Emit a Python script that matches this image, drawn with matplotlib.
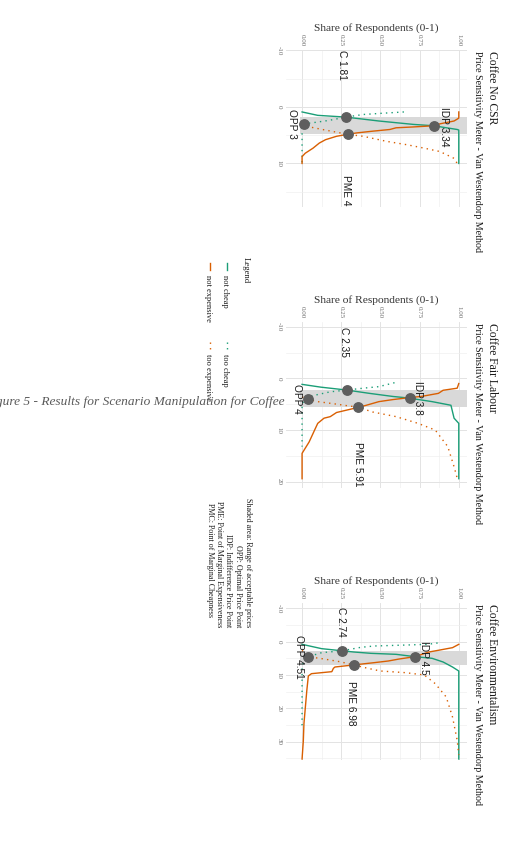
#!/usr/bin/env python3

import matplotlib
matplotlib.use("Agg")
import matplotlib.pyplot as plt
from matplotlib.lines import Line2D

W, H = 506, 865

GREEN = "#1b9e77"
ORANGE = "#d95f02"
POINT_GREY = "#5e5e5e"
SHADE = "#d9d9d9"
SERIF = "Liberation Serif"
SANS = "Liberation Sans"

TITLES = ["Coffee No CSR", "Coffee Fair Labour", "Coffee Environmentalism"]
SUBTITLE = "Price Sensitivity Meter - Van Westendorp Method"
SHARE_LABEL = "Share of Respondents (0-1)"
SHARE_TICKS = [0.0, 0.25, 0.5, 0.75, 1.0]
SHARE_TICK_LABELS = ["0.00", "0.25", "0.50", "0.75", "1.00"]
PRICE_TICKS = [[-10, 0, 10], [-10, 0, 10, 20], [-10, 0, 10, 20, 30]]
PRICE_LIMITS = [(-10.05, 17.7), (-10.9, 21.2), (-11.6, 35.5)]

# --- Coffee No CSR ---
NOCSR_NOT_CHEAP_PRICE = [0.9, 1.5, 1.81, 2.5, 3.1, 3.34, 4.0, 4.1, 10.0]
NOCSR_NOT_CHEAP_SHARE = [0.0, 0.10, 0.28, 0.49, 0.71, 0.84, 0.99, 1.0, 1.0]
NOCSR_TOO_CHEAP_PRICE = [0.9, 1.15, 1.35, 1.81, 2.4, 2.8, 3.0, 3.3, 10.0]
NOCSR_TOO_CHEAP_SHARE = [0.65, 0.50, 0.39, 0.28, 0.17, 0.07, 0.01, 0.0, 0.0]
NOCSR_NOT_EXP_PRICE = [0.9, 2.0, 2.5, 3.0, 3.34, 3.55, 3.7, 4.0, 4.3, 4.6, 4.85,
                       5.2, 5.8, 6.4, 7.3, 8.2, 8.8, 10.0]
NOCSR_NOT_EXP_SHARE = [1.0, 1.0, 0.97, 0.88, 0.84, 0.71, 0.60, 0.56, 0.45, 0.35,
                       0.29, 0.22, 0.15, 0.11, 0.07, 0.02, 0.0, 0.0]
NOCSR_TOO_EXP_PRICE = [2.8, 3.0, 3.5, 4.0, 4.85, 5.2, 6.1, 6.7, 7.3, 7.9, 9.1, 10.0]
NOCSR_TOO_EXP_SHARE = [0.0, 0.01, 0.04, 0.13, 0.29, 0.39, 0.54, 0.67, 0.78, 0.88,
                       0.97, 0.99]
NOCSR_POINT_PRICE = [1.81, 3.0, 3.34, 4.85]
NOCSR_POINT_SHARE = [0.28, 0.01, 0.84, 0.29]
NOCSR_LABELS = ["C 1.81", "OPP 3", "IDP 3.34", "PME 4"]
NOCSR_LABEL_PRICE = [-7.4, 3.0, 3.5, 14.8]
NOCSR_LABEL_SHARE = [0.258, -0.065, 0.905, 0.28]

# --- Coffee Fair Labour ---
FAIR_NOT_CHEAP_PRICE = [1.16, 1.7, 2.26, 2.9, 3.5, 3.8, 4.5, 5.2, 7.7, 8.7, 19.4]
FAIR_NOT_CHEAP_SHARE = [0.0, 0.12, 0.285, 0.43, 0.58, 0.68, 0.83, 0.95, 0.97, 1.0, 1.0]
FAIR_TOO_CHEAP_PRICE = [0.84, 1.6, 1.9, 2.26, 2.6, 3.5, 4.0, 4.8, 13.2]
FAIR_TOO_CHEAP_SHARE = [0.59, 0.49, 0.39, 0.285, 0.18, 0.045, 0.03, 0.0, 0.0]
FAIR_NOT_EXP_PRICE = [1.0, 1.9, 2.3, 2.9, 3.5, 3.7, 4.1, 4.5, 5.2, 5.6, 6.6, 7.4,
                      7.7, 8.7, 10.0, 12.3, 14.5, 19.4]
FAIR_NOT_EXP_SHARE = [1.0, 0.99, 0.90, 0.87, 0.76, 0.69, 0.58, 0.49, 0.41, 0.36,
                      0.22, 0.18, 0.14, 0.10, 0.08, 0.045, 0.0, 0.0]
FAIR_TOO_EXP_PRICE = [3.6, 4.0, 4.5, 4.9, 5.6, 6.5, 7.4, 8.7, 10.0, 13.2, 17.1, 19.3]
FAIR_TOO_EXP_SHARE = [0.0, 0.035, 0.10, 0.20, 0.36, 0.45, 0.60, 0.74, 0.85, 0.93,
                      0.97, 0.99]
FAIR_POINT_PRICE = [2.26, 4.0, 3.7, 5.6]
FAIR_POINT_SHARE = [0.285, 0.035, 0.69, 0.36]
FAIR_LABELS = ["C 2.35", "OPP 4", "IDP 3.8", "PME 5.91"]
FAIR_LABEL_PRICE = [-7.1, 4.0, 3.8, 16.6]
FAIR_LABEL_SHARE = [0.265, -0.03, 0.74, 0.36]

# --- Coffee Environmentalism ---
ENV_NOT_CHEAP_PRICE = [0.8, 2.1, 2.74, 3.1, 3.5, 3.8, 4.5, 5.0, 6.1, 7.6, 8.8, 35.2]
ENV_NOT_CHEAP_SHARE = [0.0, 0.125, 0.256, 0.33, 0.44, 0.60, 0.72, 0.83, 0.90, 0.96,
                       1.0, 1.0]
ENV_TOO_CHEAP_PRICE = [0.4, 0.8, 1.0, 1.3, 1.7, 2.74, 3.3, 4.51, 5.8, 7.8, 25.8]
ENV_TOO_CHEAP_SHARE = [0.865, 0.80, 0.67, 0.46, 0.375, 0.256, 0.125, 0.04, 0.01,
                       0.0, 0.0]
ENV_NOT_EXP_PRICE = [0.8, 1.8, 2.5, 3.1, 4.5, 5.2, 5.8, 6.3, 6.98, 7.6, 8.0, 9.0,
                     9.6, 10.3, 14.8, 24.6, 29.8, 35.2]
ENV_NOT_EXP_SHARE = [1.0, 0.96, 0.88, 0.81, 0.72, 0.62, 0.55, 0.46, 0.33, 0.21,
                     0.20, 0.19, 0.06, 0.04, 0.03, 0.012, 0.008, 0.0]
ENV_TOO_EXP_PRICE = [2.6, 4.51, 5.2, 6.0, 6.98, 8.0, 8.8, 9.3, 10.0, 12.6, 16.6,
                     22.6, 29.6, 34.0]
ENV_TOO_EXP_SHARE = [0.0, 0.04, 0.14, 0.24, 0.33, 0.42, 0.50, 0.66, 0.78, 0.85,
                     0.92, 0.96, 0.99, 1.0]
ENV_POINT_PRICE = [2.74, 4.51, 4.5, 6.98]
ENV_POINT_SHARE = [0.256, 0.04, 0.72, 0.33]
ENV_LABELS = ["C 2.74", "OPP 4.51", "IDP 4.5", "PME 6.98"]
ENV_LABEL_PRICE = [-6.0, 4.51, 4.7, 18.5]
ENV_LABEL_SHARE = [0.246, -0.02, 0.78, 0.31]

LEGEND_TITLE = "Legend"
LEGEND_NAMES = ["not cheap", "too cheap", "not expensive", "too expensive"]
NOTES = [
    "Shaded area: Range of acceptable prices",
    "OPP: Optimal Price Point",
    "IDP: Indifference Price Point",
    "PME: Point of Marginal Expensiveness",
    "PMC: Point of Marginal Cheapness",
]
CAPTION = "Figure 5 - Results for Scenario Manipulation for Coffee"

panels = [
    dict(curves=[(NOCSR_NOT_CHEAP_PRICE, NOCSR_NOT_CHEAP_SHARE),
                 (NOCSR_TOO_CHEAP_PRICE, NOCSR_TOO_CHEAP_SHARE),
                 (NOCSR_NOT_EXP_PRICE, NOCSR_NOT_EXP_SHARE),
                 (NOCSR_TOO_EXP_PRICE, NOCSR_TOO_EXP_SHARE)],
         pts=(NOCSR_POINT_PRICE, NOCSR_POINT_SHARE),
         labels=(NOCSR_LABELS, NOCSR_LABEL_PRICE, NOCSR_LABEL_SHARE),
         box=(50, 207)),
    dict(curves=[(FAIR_NOT_CHEAP_PRICE, FAIR_NOT_CHEAP_SHARE),
                 (FAIR_TOO_CHEAP_PRICE, FAIR_TOO_CHEAP_SHARE),
                 (FAIR_NOT_EXP_PRICE, FAIR_NOT_EXP_SHARE),
                 (FAIR_TOO_EXP_PRICE, FAIR_TOO_EXP_SHARE)],
         pts=(FAIR_POINT_PRICE, FAIR_POINT_SHARE),
         labels=(FAIR_LABELS, FAIR_LABEL_PRICE, FAIR_LABEL_SHARE),
         box=(322, 488)),
    dict(curves=[(ENV_NOT_CHEAP_PRICE, ENV_NOT_CHEAP_SHARE),
                 (ENV_TOO_CHEAP_PRICE, ENV_TOO_CHEAP_SHARE),
                 (ENV_NOT_EXP_PRICE, ENV_NOT_EXP_SHARE),
                 (ENV_TOO_EXP_PRICE, ENV_TOO_EXP_SHARE)],
         pts=(ENV_POINT_PRICE, ENV_POINT_SHARE),
         labels=(ENV_LABELS, ENV_LABEL_PRICE, ENV_LABEL_SHARE),
         box=(603, 760)),
]

curve_styles = [
    dict(color=GREEN, ls="-"),
    dict(color=GREEN, ls=(0, (1, 3))),
    dict(color=ORANGE, ls="-"),
    dict(color=ORANGE, ls=(0, (1, 3))),
]

fig = plt.figure(figsize=(W / 100, H / 100), dpi=100)
fig.patch.set_facecolor("white")

LEFT, RIGHT = 286, 467
XLIM = (-0.1025, 1.0525)


def fx(x):
    return x / W


def fy(y):
    return 1 - y / H


# page is rotated: price runs downward, share runs to the right
for i, p in enumerate(panels):
    top, bottom = p["box"]
    ax = fig.add_axes([fx(LEFT), fy(bottom), (RIGHT - LEFT) / W, (bottom - top) / H])
    lo, hi = PRICE_LIMITS[i]
    ax.set_xlim(*XLIM)
    ax.set_ylim(hi, lo)
    for s in ax.spines.values():
        s.set_visible(False)

    ax.set_xticks(SHARE_TICKS)
    ax.set_xticks([0.125, 0.375, 0.625, 0.875], minor=True)
    ax.set_yticks(PRICE_TICKS[i])
    ax.set_yticks([t + 5 for t in PRICE_TICKS[i] if lo < t + 5 < hi], minor=True)
    ax.xaxis.tick_top()
    ax.set_xticklabels(SHARE_TICK_LABELS, rotation=-90, fontsize=5,
                       family=SERIF, color="#6b6b6b")
    ax.set_yticklabels([str(t) for t in PRICE_TICKS[i]], rotation=-90, fontsize=5,
                       family=SERIF, color="#6b6b6b", va="center")
    ax.tick_params(which="both", length=0, pad=3)
    ax.grid(True, which="major", color="#e3e3e3", lw=0.7)
    ax.grid(True, which="minor", color="#efefef", lw=0.45)
    ax.set_axisbelow(True)

    pts_price, pts_share = p["pts"]
    # shaded acceptable range PMC..PME
    ax.fill_betweenx([pts_price[0], pts_price[3]], -0.01, XLIM[1],
                     color=SHADE, lw=0, zorder=1)

    for (pr, sh), st in zip(p["curves"], curve_styles):
        ax.plot(sh, pr, color=st["color"], ls=st["ls"], lw=1.0, zorder=2)

    ax.plot(pts_share, pts_price, "o", color=POINT_GREY, ms=6.8, zorder=3)

    texts, lp, ls_ = p["labels"]
    for t, yy, xx in zip(texts, lp, ls_):
        ax.text(xx, yy, t, rotation=-90, ha="center", va="center",
                fontsize=7.3, family=SANS, color="#1a1a1a", clip_on=True, zorder=4)

    # title + subtitle (rotated)
    fig.text(fx(492), fy(top + 1), TITLES[i], rotation=-90, rotation_mode="anchor",
             ha="left", va="center", fontsize=8.4, family=SERIF, color="#1a1a1a")
    fig.text(fx(478), fy(top + 1), SUBTITLE, rotation=-90, rotation_mode="anchor",
             ha="left", va="center", fontsize=7.2, family=SERIF, color="#1a1a1a")
    fig.text(fx((LEFT + RIGHT) / 2), fy(top - 22), SHARE_LABEL, ha="center",
             va="center", fontsize=8.2, family=SERIF, color="#333333")

# legend (rotated by hand)
fig.text(fx(246), fy(257), LEGEND_TITLE, rotation=-90, rotation_mode="anchor",
         ha="left", va="center", fontsize=6.3, family=SERIF, color="#1a1a1a")
key_x = [227, 227, 210, 210]
key_y = [263, 342, 263, 342]
for k, (name, st) in enumerate(zip(LEGEND_NAMES, curve_styles)):
    fig.add_artist(Line2D([fx(key_x[k]), fx(key_x[k])],
                          [fy(key_y[k]), fy(key_y[k] + 7)],
                          color=st["color"], ls=st["ls"], lw=1.0))
    fig.text(fx(key_x[k] - 2), fy(key_y[k] + 12), name, rotation=-90,
             rotation_mode="anchor", ha="left", va="center", fontsize=6,
             family=SERIF, color="#1a1a1a")

note_x = [248, 238, 228, 219, 210]
note_end = [627, 627, 627, 627, 617]
for t, xx, ye in zip(NOTES, note_x, note_end):
    fig.text(fx(xx), fy(ye), t, rotation=-90, rotation_mode="anchor", ha="right",
             va="center", fontsize=5.8, family=SERIF, color="#1a1a1a")

fig.text(fx(285), fy(405), CAPTION, ha="right", va="baseline", fontsize=9.6,
         family=SERIF, style="italic", color="#5a5a5a", zorder=10)

fig.savefig("out.png", dpi=100)
